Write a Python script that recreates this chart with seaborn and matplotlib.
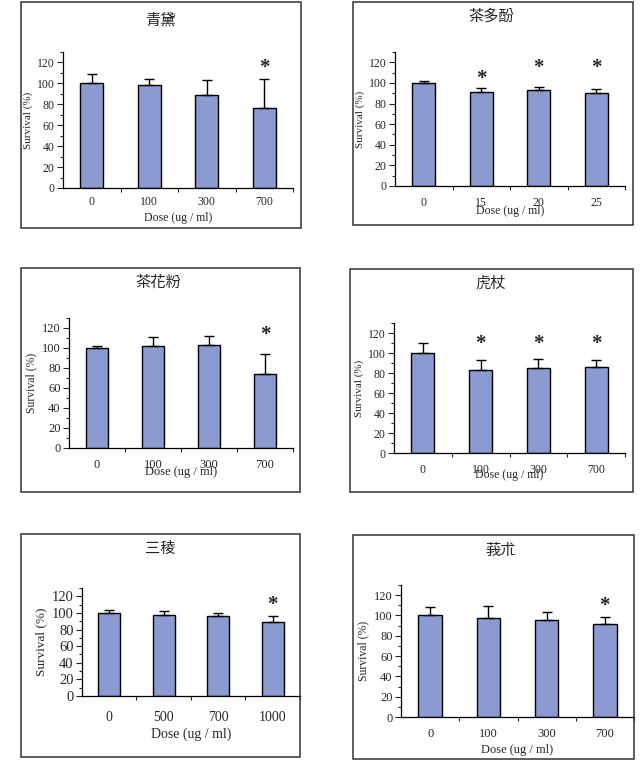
# Survival vs dose, six herbal extracts

import numpy as np
import pandas as pd
import matplotlib
matplotlib.use("Agg")
import matplotlib.pyplot as plt
from matplotlib.patches import Rectangle
import seaborn as sns

# ---- data ----
titles = ["青黛", "茶多酚", "茶花粉", "虎杖", "三稜", "莪朮"]
doses = [
    ["0", "100", "300", "700"],
    ["0", "15", "20", "25"],
    ["0", "100", "300", "700"],
    ["0", "100", "300", "700"],
    ["0", "500", "700", "1000"],
    ["0", "100", "300", "700"],
]
means = [
    [100, 98, 89, 76],
    [100, 91.5, 93, 90.5],
    [100, 102, 103, 74],
    [100, 83, 85, 86],
    [100, 98, 96, 89],
    [100, 97.5, 96, 92],
]
errors = [
    [9, 6, 14, 28],
    [2, 4, 3.5, 3.5],
    [2, 9, 9, 20],
    [10, 10, 9, 7],
    [3, 4, 4, 7],
    [8, 12, 7, 6],
]
# star marks: (bar index, height of star)
stars = [
    [(3, 115)],
    [(1, 104), (2, 114), (3, 114)],
    [(3, 113)],
    [(1, 109), (2, 109), (3, 109)],
    [(3, 110)],
    [(3, 109)],
]

# ---- layout in pixels (left, top, right, bottom) ----
W, H = 642, 768
boxes = [(21, 2, 301, 228), (353, 2, 633, 225),
         (21, 268, 300, 492), (350, 269, 633, 492),
         (21, 534, 300, 757), (353, 535, 634, 759)]
axes_px = [(63, 52, 293, 188), (395, 52, 625, 186),
           (69, 318, 293, 448), (394, 323, 625, 453),
           (82, 588, 300, 696), (401, 585, 634, 717)]
title_pos = [(160, 20), (491, 16), (158, 282), (491, 283), (160, 548), (501, 550)]
xtick_pad = [6, 8, 8, 8, 11, 8]
xlabel_pad = [3, -3, -4, -5, 2, 3]
font_sz = [8.5, 8.5, 9, 8.5, 10, 9]
ytick_sz = [8.5, 8.5, 9, 8.5, 10.5, 9]

bar_color = "#8B9AD0"

sns.set_style("ticks")
plt.rcParams["font.family"] = ["Liberation Serif", "DejaVu Serif"]

fig = plt.figure(figsize=(W / 100, H / 100), dpi=100)


def fx(x):
    return x / W


def fy(y):
    return 1 - y / H


for i in range(6):
    # outer frame of each panel
    l, t, r, b = boxes[i]
    fig.patches.append(Rectangle((fx(l), fy(b)), fx(r - l), (b - t) / H,
                                 transform=fig.transFigure, fill=False,
                                 edgecolor="#333333", linewidth=1.1))

    l, t, r, b = axes_px[i]
    ax = fig.add_axes([fx(l), fy(b), fx(r - l), (b - t) / H])
    df = pd.DataFrame({"dose": doses[i], "survival": means[i]})
    sns.barplot(data=df, x="dose", y="survival", order=doses[i],
                color=bar_color, saturation=1, width=0.4,
                edgecolor="black", linewidth=1, errorbar=None, ax=ax)
    xs = np.arange(len(doses[i]))
    ax.errorbar(xs, means[i], yerr=[np.zeros(len(xs)), errors[i]],
                fmt="none", ecolor="black", elinewidth=1, capsize=3.5,
                capthick=1)
    for k, h in stars[i]:
        ax.text(k, h, "*", ha="center", va="center", fontsize=15,
                fontweight="bold")

    fs = font_sz[i]
    ax.set_xlim(-0.5, len(xs) - 0.5)
    ax.set_ylim(0, 130)
    ax.set_yticks(range(0, 121, 20))
    ax.set_yticks(range(10, 131, 20), minor=True)
    ax.set_xticks(np.arange(0.5, len(xs) - 0.4, 1.0), minor=True)
    ax.tick_params(axis="x", which="major", length=0, labelsize=fs, pad=xtick_pad[i])
    ax.tick_params(axis="x", which="minor", length=3, direction="out", width=0.8)
    ax.tick_params(axis="y", which="major", length=4, width=0.8,
                   labelsize=ytick_sz[i], pad=2)
    ax.tick_params(axis="y", which="minor", length=2, width=0.8)
    ax.set_xlabel("Dose (ug / ml)", fontsize=fs, labelpad=xlabel_pad[i])
    ax.set_ylabel("Survival (%)", fontsize=fs - 0.5, labelpad=3)
    ax.set_facecolor("none")
    sns.despine(ax=ax)
    for s in ["left", "bottom"]:
        ax.spines[s].set_linewidth(0.9)
        ax.spines[s].set_color("black")

    tx, ty = title_pos[i]
    fig.text(fx(tx), fy(ty), titles[i], ha="center", va="center",
             fontsize=11, family=["Noto Sans CJK TC", "DejaVu Sans"])

fig.savefig("out.png", dpi=100)
